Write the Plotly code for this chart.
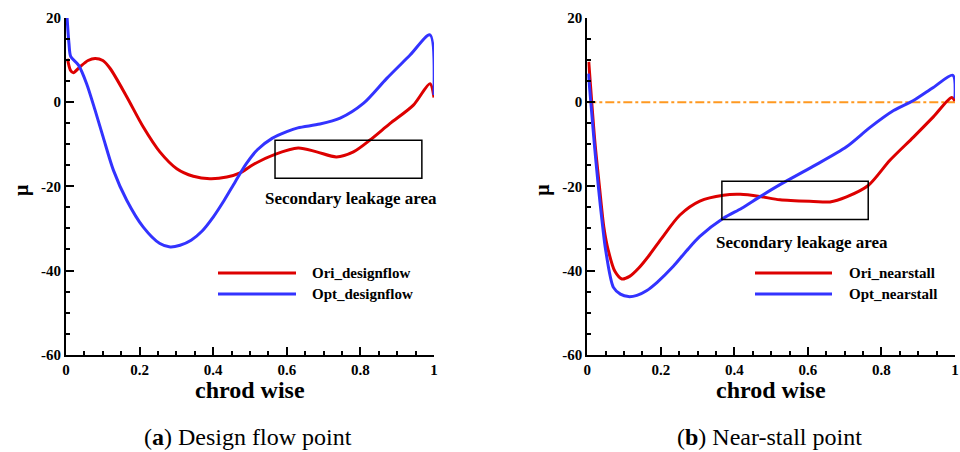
import plotly.graph_objects as go

# ---- data ----
ori_design_x = [0.004, 0.012, 0.02, 0.038, 0.06, 0.079, 0.1, 0.12, 0.165, 0.21, 0.255, 0.301, 0.346, 0.391, 0.437,
                0.473, 0.509, 0.568, 0.631, 0.681, 0.735, 0.781, 0.826, 0.88, 0.944, 0.989, 1.0]
ori_design_y = [10.3, 7.6, 7.0, 8.4, 9.9, 10.4, 9.9, 8.0, 1.3, -5.9, -11.8, -15.8, -17.6, -18.2, -17.8,
                -16.8, -14.8, -12.4, -10.9, -11.8, -13.0, -11.8, -9.0, -5.1, -0.7, 4.4, 1.1]

opt_design_x = [0.003, 0.008, 0.013, 0.034, 0.056, 0.079, 0.101, 0.129, 0.165, 0.21, 0.255, 0.283, 0.31,
                0.34, 0.37, 0.40, 0.43, 0.46, 0.49, 0.52, 0.56, 0.6, 0.63, 0.69, 0.745, 0.808, 0.871, 0.935,
                0.989, 1.0]
opt_design_y = [20.0, 14.0, 10.8, 8.8, 4.4, -1.9, -8.3, -16.2, -23.3, -29.7, -33.6, -34.4, -34.0,
                -32.8, -30.6, -27.3, -23.3, -18.9, -14.6, -11.3, -8.6, -7.0, -6.1, -5.2, -3.8, -0.3, 5.6, 11.2,
                16.0, 1.7]

ori_stall_x = [0.004, 0.021, 0.033, 0.045, 0.057, 0.075, 0.094, 0.115, 0.14, 0.17, 0.2, 0.252, 0.306, 0.37,
               0.416, 0.469, 0.524, 0.615, 0.66, 0.705, 0.764, 0.823, 0.887, 0.941, 0.991, 1.0]
ori_stall_y = [9.6, -9.8, -20.0, -29.7, -35.2, -40.2, -42.0, -41.4, -39.4, -36.2, -32.6, -26.8, -23.5, -22.1,
               -21.9, -22.4, -23.2, -23.6, -23.7, -22.5, -19.8, -13.8, -8.3, -3.5, 1.1, 0.3]

opt_stall_x = [0.003, 0.019, 0.03, 0.042, 0.05, 0.071, 0.09, 0.112, 0.135, 0.161, 0.19, 0.234, 0.27, 0.306,
               0.37, 0.42, 0.469, 0.524, 0.615, 0.705, 0.769, 0.833, 0.887, 0.941, 0.994, 1.0]
opt_stall_y = [6.8, -9.8, -20.0, -29.7, -35.2, -44.0, -45.6, -46.2, -45.9, -44.8, -42.8, -39.0, -35.3, -31.9,
               -27.6, -25.2, -22.5, -19.6, -15.2, -10.6, -6.0, -2.0, 0.4, 3.5, 6.4, 0.9]

legend_left = ["Ori_designflow", "Opt_designflow"]
legend_right = ["Ori_nearstall", "Opt_nearstall"]
captions = ["(<b>a</b>) Design flow point", "(<b>b</b>) Near-stall point"]
x_ticks = [0, 0.2, 0.4, 0.6, 0.8, 1]
x_ticklabels = ["0", "0.2", "0.4", "0.6", "0.8", "1"]
y_ticks = [-60, -40, -20, 0, 20]
y_ticklabels = ["-60", "-40", "-20", "0", "20"]
box_left = dict(x0=0.568, x1=0.967, y0=-18.1, y1=-9.05)
box_right = dict(x0=0.366, x1=0.764, y0=-27.9, y1=-18.8)

RED = "#DD0000"
BLUE = "#3333FF"
TICKFONT = dict(family="Liberation Serif", size=15, color="black", weight="bold")

fig = go.Figure()
line_kw = dict(mode="lines", line_shape="spline", showlegend=False)
fig.add_trace(go.Scatter(x=ori_design_x, y=ori_design_y, line=dict(color=RED, width=3, smoothing=0.8), xaxis="x", yaxis="y", **line_kw))
fig.add_trace(go.Scatter(x=opt_design_x, y=opt_design_y, line=dict(color=BLUE, width=3, smoothing=0.8), xaxis="x", yaxis="y", **line_kw))
fig.add_trace(go.Scatter(x=[0, 1], y=[0, 0], mode="lines", line=dict(color="#FF9920", width=2, dash="dashdot"),
                         xaxis="x2", yaxis="y2", showlegend=False))
fig.add_trace(go.Scatter(x=ori_stall_x, y=ori_stall_y, line=dict(color=RED, width=3, smoothing=0.8), xaxis="x2", yaxis="y2", **line_kw))
fig.add_trace(go.Scatter(x=opt_stall_x, y=opt_stall_y, line=dict(color=BLUE, width=3, smoothing=0.8), xaxis="x2", yaxis="y2", **line_kw))

W, H = 960, 452
ydom = [(H - 354.7) / H, (H - 18) / H]
xdom1 = [66 / W, 434 / W]
xdom2 = [587.3 / W, 955 / W]

def xax(dom, anchor):
    return dict(domain=dom, anchor=anchor, range=[0, 1], showline=True, linewidth=2, linecolor="black",
                ticks="inside", ticklen=8, tickwidth=2, tickcolor="black", tickvals=x_ticks,
                ticktext=x_ticklabels, tickfont=TICKFONT, showgrid=False, zeroline=False,
                minor=dict(ticks="inside", ticklen=4, tickwidth=1.5, tickcolor="black", dtick=0.05, showgrid=False),
                automargin=False)

def yax(anchor):
    return dict(domain=ydom, anchor=anchor, range=[-60, 20], showline=True, linewidth=2, linecolor="black",
                ticks="inside", ticklen=8, tickwidth=2, tickcolor="black", tickvals=y_ticks, ticktext=y_ticklabels,
                tickfont=TICKFONT, showgrid=False, zeroline=False,
                minor=dict(ticks="inside", ticklen=4, tickwidth=1.5, tickcolor="black", dtick=5, showgrid=False),
                automargin=False)

shapes = []
annotations = []
for xr, yr, b in [("x", "y", box_left), ("x2", "y2", box_right)]:
    shapes.append(dict(type="rect", xref=xr, yref=yr, line=dict(color="black", width=1.5), **b))

# legend samples
for (x0, x1, tx, names) in [(218, 296, 310, legend_left), (755, 832, 847, legend_right)]:
    for i, (nm, col) in enumerate(zip(names, [RED, BLUE])):
        yp = 273 + 21 * i
        shapes.append(dict(type="line", xref="paper", yref="paper", x0=x0 / W, x1=x1 / W,
                           y0=1 - yp / H, y1=1 - yp / H, line=dict(color=col, width=3)))
        annotations.append(dict(text=nm, xref="paper", yref="paper", x=tx / W, y=1 - yp / H, xanchor="left",
                                yanchor="middle", showarrow=False,
                                font=dict(family="Liberation Serif", size=15, color="black", weight="bold")))

# area labels
annotations.append(dict(text="Secondary leakage area", xref="x", yref="y", x=0.775, y=-23.0, showarrow=False,
                        font=dict(family="Liberation Serif", size=17, color="black", weight="bold")))
annotations.append(dict(text="Secondary leakage area", xref="x2", yref="y2", x=0.584, y=-33.3, showarrow=False,
                        font=dict(family="Liberation Serif", size=17, color="black", weight="bold")))

# axis titles and captions
for cx, mx in [(250, 21), (771, 541.7)]:
    annotations.append(dict(text="chrod wise", xref="paper", yref="paper", x=cx / W, y=1 - 390 / H, showarrow=False,
                            xanchor="center", yanchor="middle",
                            font=dict(family="Liberation Serif", size=24, color="black", weight="bold")))
    annotations.append(dict(text="μ", xref="paper", yref="paper", x=mx / W, y=1 - 190 / H, showarrow=False,
                            textangle=-90, xanchor="center", yanchor="middle",
                            font=dict(family="Liberation Serif", size=20, color="black", weight="bold")))

for cx, cap in [(248, captions[0]), (769, captions[1])]:
    annotations.append(dict(text=cap, xref="paper", yref="paper", x=cx / W, y=1 - 437 / H, showarrow=False,
                            xanchor="center", yanchor="middle",
                            font=dict(family="Liberation Serif", size=24, color="black")))

fig.update_layout(
    width=W, height=H, margin=dict(l=0, r=0, t=0, b=0, autoexpand=False),
    paper_bgcolor="white", plot_bgcolor="white", showlegend=False,
    xaxis=xax(xdom1, "y"), yaxis=yax("x"),
    xaxis2=xax(xdom2, "y2"), yaxis2=yax("x2"),
    shapes=shapes, annotations=annotations,
)

fig.write_html("out.html")
